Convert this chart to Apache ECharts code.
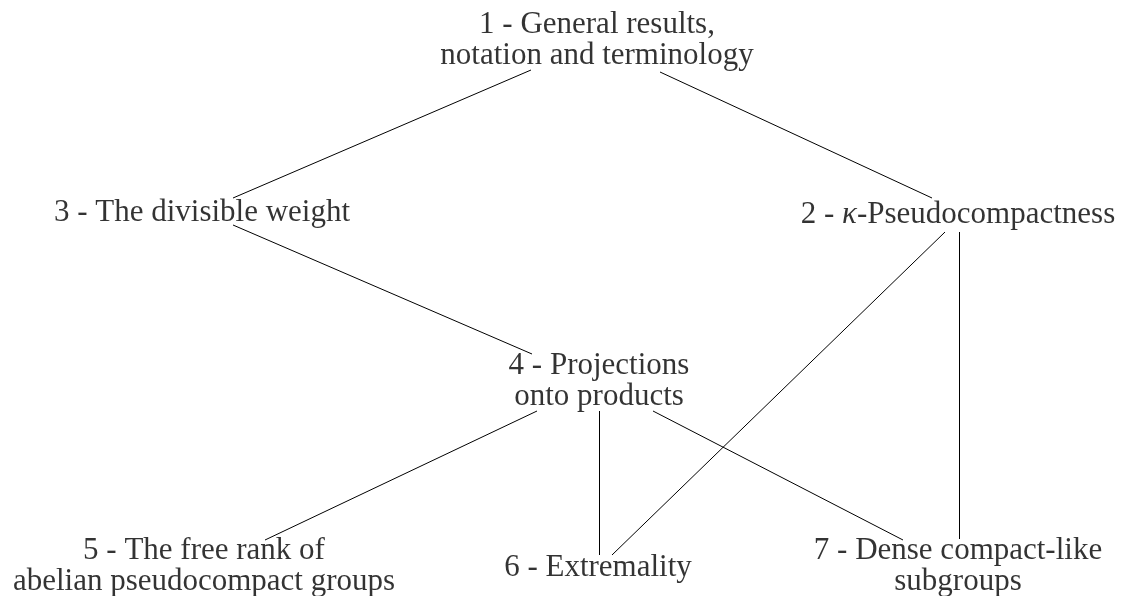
<!DOCTYPE html>
<html>
<head>
<meta charset="utf-8">
<script src="https://cdn.jsdelivr.net/npm/echarts@6/dist/echarts.min.js"></script>
<style>
  html, body { margin: 0; padding: 0; background: #ffffff; }
  #chart { width: 1123px; height: 596px; }
</style>
</head>
<body>
<div id="chart"></div>
<script>
// ---- Data ----
const nodeLabels = [
  '1 - General results,\nnotation and terminology',
  '2 - {k|κ}-Pseudocompactness',
  '3 - The divisible weight',
  '4 - Projections\nonto products',
  '5 - The free rank of\nabelian pseudocompact groups',
  '6 - Extremality',
  '7 - Dense compact-like\nsubgroups'
];
const nodeX = [597, 958, 202, 599, 204, 598, 958];
const nodeY = [40.5, 215, 213, 381.5, 566.5, 568, 566];

// edges: [from, to] (chapter dependency)
const edgePairs = [[1, 3], [1, 2], [3, 4], [2, 6], [2, 7], [4, 5], [4, 6], [4, 7]];
// anchor points of each edge (start below parent label, end above child label)
const edgeStartX = [531, 660, 233, 945, 959, 537, 599, 653];
const edgeStartY = [70, 72, 225, 232, 232, 411, 411, 411];
const edgeEndX   = [233, 932, 532, 612, 959, 265, 599, 903];
const edgeEndY   = [198, 198, 354, 555, 539, 540, 555, 540];

// ---- Chart ----
const FONT = '"Liberation Serif", "Times New Roman", serif';
const chart = echarts.init(document.getElementById('chart'), null, { renderer: 'canvas' });

const lineData = edgePairs.map((p, i) => ({
  name: p[0] + '-' + p[1],
  coords: [[edgeStartX[i], edgeStartY[i]], [edgeEndX[i], edgeEndY[i]]]
}));

const nodeData = nodeLabels.map((t, i) => ({
  name: t,
  value: [nodeX[i], nodeY[i]]
}));

chart.setOption({
  animation: false,
  backgroundColor: '#ffffff',
  grid: { left: 0, right: 0, top: 0, bottom: 0, containLabel: false },
  xAxis: { type: 'value', min: 0, max: 1123, show: false },
  yAxis: { type: 'value', min: 0, max: 596, inverse: true, show: false },
  series: [
    {
      type: 'lines',
      coordinateSystem: 'cartesian2d',
      polyline: false,
      silent: true,
      lineStyle: { color: '#000000', width: 1, opacity: 1, curveness: 0 },
      data: lineData
    },
    {
      type: 'scatter',
      symbolSize: 1,
      silent: true,
      itemStyle: { color: 'rgba(0,0,0,0)' },
      label: {
        show: true,
        position: 'inside',
        align: 'center',
        verticalAlign: 'middle',
        formatter: p => p.name,
        color: '#000000',
        fontFamily: FONT,
        fontSize: 31,
        lineHeight: 31,
        rich: {
          k: { fontFamily: FONT, fontSize: 31, fontStyle: 'italic', color: '#000000', lineHeight: 31 }
        }
      },
      data: nodeData
    }
  ]
});
</script>
</body>
</html>
